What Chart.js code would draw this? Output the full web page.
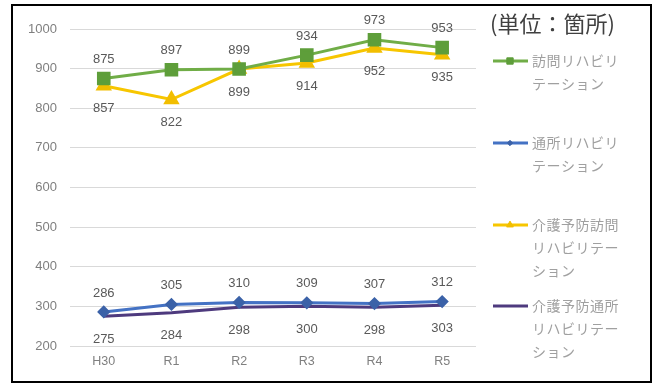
<!DOCTYPE html>
<html><head><meta charset="utf-8">
<script src="https://cdn.jsdelivr.net/npm/chart.js@4"></script>
<style>
html,body{margin:0;padding:0;background:#fff;}
#wrap{position:absolute;left:0;top:0;width:654px;height:383px;}
</style></head>
<body><div id="wrap"><canvas id="c" width="654" height="383"></canvas></div>
<script>
const categories = ['H30','R1','R2','R3','R4','R5'];
const seriesNames = ['訪問リハビリテーション','通所リハビリテーション','介護予防訪問リハビリテーション','介護予防通所リハビリテーション'];
const houmon = [875, 897, 899, 934, 973, 953];
const tsusho = [286, 305, 310, 309, 307, 312];
const yoboHoumon = [857, 822, 899, 914, 952, 935];
const yoboTsusho = [275, 284, 298, 300, 298, 303];
const yTicks = [200, 300, 400, 500, 600, 700, 800, 900, 1000];
const unitTitle = '(単位：箇所)';

const labelPos = ['above','above','below','below'];

const dataLabelPlugin = {
  id:'dl',
  afterDatasetsDraw(chart){
    const ctx = chart.ctx;
    ctx.save();
    ctx.font = '13px "Liberation Sans", Arial, sans-serif';
    ctx.fillStyle = '#595959';
    ctx.textAlign = 'center';
    ctx.textBaseline = 'middle';
    chart.data.datasets.forEach((ds, i) => {
      const meta = chart.getDatasetMeta(i);
      meta.data.forEach((pt, j) => {
        const off = labelPos[i] === 'above' ? -19 : 23;
        ctx.fillText(String(ds.data[j]), pt.x, pt.y + off);
      });
    });
    ctx.restore();
  }
};

const legendPlugin = {
  id:'customLegend',
  afterDraw(chart){
    const ctx = chart.ctx;
    ctx.save();
    ctx.strokeStyle = '#000';
    ctx.lineWidth = 2;
    ctx.strokeRect(12, 5, 639, 377);
    ctx.font = '22px "Noto Sans CJK JP"';
    ctx.fillStyle = '#404040';
    ctx.textAlign = 'left';
    ctx.textBaseline = 'middle';
    ctx.fillText(unitTitle, 490, 24);
    const tops = [61, 143, 225, 306];
    ctx.font = '14px "Noto Sans CJK JP"';
    try { ctx.letterSpacing = '0.5px'; } catch(e) {}
    chart.data.datasets.forEach((ds, i) => {
      const y = tops[i];
      ctx.strokeStyle = ds.borderColor;
      ctx.lineWidth = 3;
      ctx.beginPath(); ctx.moveTo(493, y); ctx.lineTo(528, y); ctx.stroke();
      if (ds.pointStyle && ds.pointRadius > 0) {
        ctx.fillStyle = ds.pointBackgroundColor;
        ctx.strokeStyle = ds.pointBorderColor;
        ctx.lineWidth = 1;
        Chart.helpers.drawPoint(ctx, {pointStyle: ds.pointStyle, radius: ds.pointRadius*0.6, borderWidth:1, rotation:0}, 510, y);
      }
      const chars = Array.from(ds.label);
      const lines = [];
      for (let k = 0; k < chars.length; k += 6) lines.push(chars.slice(k, k + 6).join(''));
      ctx.fillStyle = '#a0a0a0';
      ctx.textAlign = 'left';
      ctx.textBaseline = 'middle';
      lines.forEach((ln, k) => ctx.fillText(ln, 532, y + k*23));
    });
    ctx.restore();
  }
};

function mk(label, data, color, ptColor, style, r){
  return {label, data, borderColor: color, backgroundColor: color, borderWidth: 3,
    pointStyle: style, pointRadius: r, pointBackgroundColor: ptColor, pointBorderColor: ptColor,
    pointHoverRadius: r, tension: 0, fill:false};
}

new Chart(document.getElementById('c'), {
  type:'line',
  data:{
    labels: categories,
    datasets:[
      mk(seriesNames[0], houmon, '#70AD47', '#5E9E3A', 'rect', 7.5),
      mk(seriesNames[1], tsusho, '#4472C4', '#3B62A8', 'rectRot', 4.5),
      mk(seriesNames[2], yoboHoumon, '#F7C600', '#F2BE00', 'triangle', 6.5),
      mk(seriesNames[3], yoboTsusho, '#4E3A7E', '#4E3A7E', false, 0)
    ]
  },
  options:{
    responsive:false, animation:false,
    layout:{padding:{left:15, top:29, right:178, bottom:6}},
    plugins:{legend:{display:false}, tooltip:{enabled:false}},
    scales:{
      x:{
        offset:true,
        grid:{display:false, drawTicks:false, offset:true},
        border:{display:false},
        ticks:{color:'#7f7f7f', font:{size:12.5, family:'"Liberation Sans", Arial'}, padding:8}
      },
      y:{
        min:200, max:1000,
        afterBuildTicks(s){ s.ticks = yTicks.map(v => ({value:v})); },
        grid:{color:'#d9d9d9', lineWidth:1, drawTicks:false},
        border:{display:false},
        ticks:{color:'#7f7f7f', font:{size:13, family:'"Liberation Sans", Arial'}, padding:13,
          callback:(v)=>String(v)}
      }
    }
  },
  plugins:[dataLabelPlugin, legendPlugin]
});
</script></body></html>
